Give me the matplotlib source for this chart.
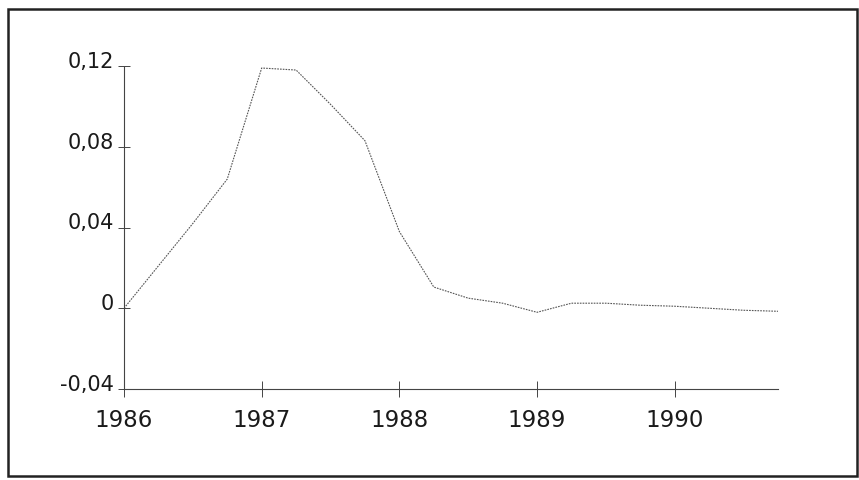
import matplotlib
matplotlib.use("Agg")
import matplotlib.pyplot as plt
from matplotlib.patches import Rectangle
from matplotlib.transforms import ScaledTranslation

# Quarterly data, 1986 Q1 .. 1990 Q4
quarters = [1986 + 0.25 * k for k in range(20)]
values = [0.000, 0.021, 0.042, 0.064, 0.119, 0.118, 0.101, 0.083,
          0.038, 0.0105, 0.005, 0.0025, -0.002, 0.0025, 0.0025, 0.0015,
          0.001, 0.000, -0.001, -0.0015]

y_ticks = [-0.04, 0.0, 0.04, 0.08, 0.12]
y_tick_labels = ["-0,04", "0", "0,04", "0,08", "0,12"]
x_ticks = [1986, 1987, 1988, 1989, 1990]
x_tick_labels = ["1986", "1987", "1988", "1989", "1990"]

plt.rcParams['font.family'] = ['DejaVu Sans']

fig = plt.figure(figsize=(8.59, 4.81), dpi=100)
fig.patch.set_facecolor('white')

# outer frame
fig.add_artist(Rectangle((8 / 859, 1 - 477 / 481), (857 - 8) / 859, (477 - 10) / 481,
                         transform=fig.transFigure, fill=False, lw=1.8,
                         edgecolor='#222222'))

ax = fig.add_axes([124 / 859, 1 - 390 / 481, (778 - 124) / 859, (390 - 67) / 481])
ax.plot(quarters, values, color='#555555', lw=0.8, linestyle=(0, (1.5, 1)))

ax.set_xlim(1986, 1990.75)
ax.set_ylim(-0.04, 0.12)

for s in ['top', 'right']:
    ax.spines[s].set_visible(False)
for s in ['left', 'bottom']:
    ax.spines[s].set_linestyle((0, (2, 1)))
    ax.spines[s].set_color('#444444')
    ax.spines[s].set_linewidth(0.8)

ax.set_yticks(y_ticks)
ax.set_yticklabels(y_tick_labels)
ax.set_xticks(x_ticks)
ax.set_xticklabels(x_tick_labels)
ax.tick_params(axis='y', direction='inout', length=8, width=0.7, color='#444444',
               labelsize=15, pad=3, labelcolor='#1a1a1a')
ax.tick_params(axis='x', direction='inout', length=11, width=0.7, color='#444444',
               labelsize=16.5, pad=8, labelcolor='#1a1a1a')
off = ScaledTranslation(0, 7 / 100, fig.dpi_scale_trans)
for lab in ax.get_yticklabels():
    lab.set_transform(lab.get_transform() + off)
ax.patch.set_alpha(0)

fig.savefig("out.png", dpi=100)
